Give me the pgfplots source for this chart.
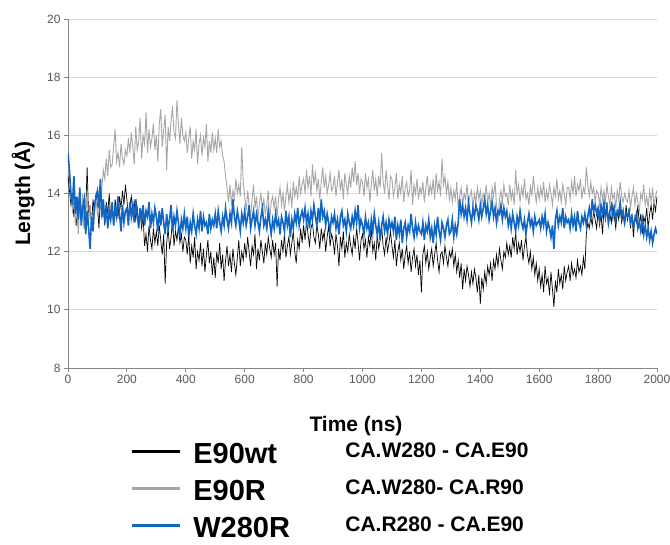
\documentclass[border=0pt]{standalone}
\usepackage{fontspec}
\setmainfont{Liberation Sans}
\usepackage{pgfplots}
\usepackage{pgfplotstable}
\pgfplotsset{compat=1.18}

\definecolor{wtblack}{RGB}{0,0,0}
\definecolor{rgray}{RGB}{166,166,166}
\definecolor{rblue}{RGB}{16,102,196}
\definecolor{axgray}{RGB}{134,134,134}
\definecolor{gridgray}{RGB}{217,217,217}
\definecolor{ticktext}{RGB}{89,89,89}

% t = time (ns), k = E90wt, g = E90R, b = W280R
\pgfplotstableread{
t k g b
0 14.6 15.3 15.4
5 14.1 14.5 14.8
10 13.6 13.9 14.0
15 13.9 13.4 13.6
20 13.2 13.8 14.6
25 13.7 12.9 13.3
30 12.9 13.5 13.9
35 13.5 12.6 13.1
40 14.2 13.7 14.2
45 13.1 13.2 12.9
50 13.8 14.0 13.5
55 12.8 12.8 13.8
60 13.4 13.3 12.6
65 14.9 13.9 13.4
70 13.2 13.0 12.8
75 13.6 13.6 12.1
80 12.9 13.1 13.2
85 13.8 12.7 12.7
90 13.3 13.5 13.6
95 14.0 13.8 13.9
100 13.6 13.3 14.1
105 12.8 14.0 13.5
110 13.9 13.6 14.5
115 13.2 14.2 13.2
120 13.5 14.8 13.8
125 12.9 14.5 13.0
130 13.7 15.2 13.6
135 13.3 14.6 12.8
140 14.0 15.5 13.4
145 13.1 14.9 13.1
150 13.6 15.0 13.7
155 12.9 15.6 12.9
160 13.8 16.2 13.5
165 13.4 15.1 13.2
170 13.2 15.4 13.9
175 13.9 14.9 13.3
180 13.5 15.7 12.7
185 14.1 15.2 13.6
190 13.6 15.0 13.0
195 14.3 15.5 13.4
200 13.8 15.3 13.5
205 13.2 15.9 12.9
210 13.6 15.4 13.7
215 13.9 16.1 13.2
220 13.3 15.6 13.6
225 13.7 15.0 13.0
230 13.1 16.3 13.8
235 13.5 15.5 13.3
240 13.0 15.8 12.8
245 13.4 16.6 13.5
250 12.8 15.2 13.1
255 13.2 16.0 13.6
260 12.2 15.7 12.9
265 12.6 16.8 13.4
270 12.0 15.4 13.2
275 12.9 16.2 13.7
280 12.4 15.6 12.8
285 12.1 15.9 13.3
290 12.8 16.4 13.0
295 12.3 15.5 13.5
300 12.7 16.0 13.2
305 12.2 15.1 12.7
310 12.9 16.4 13.4
315 12.4 16.9 12.9
320 11.9 15.6 13.5
325 12.6 16.2 13.0
330 10.9 16.7 12.6
335 12.3 14.8 13.3
340 12.8 16.3 12.8
345 12.1 15.8 13.1
350 12.5 16.5 13.6
355 13.1 17.0 12.7
360 12.2 16.1 13.2
365 12.7 15.9 12.9
370 12.4 17.2 13.4
375 12.9 16.4 13.0
380 12.3 15.7 12.5
385 12.6 16.6 13.1
390 12.0 16.0 12.8
395 12.5 15.8 13.3
400 12.4 16.1 12.8
405 11.9 15.4 13.2
410 12.6 15.9 12.5
415 11.6 16.3 13.0
420 12.2 15.2 12.7
425 11.8 15.8 13.3
430 12.5 15.5 12.9
435 11.4 16.2 12.6
440 12.0 15.0 13.1
445 11.7 15.7 12.8
450 12.3 16.0 13.4
455 11.5 15.3 12.7
460 12.1 15.9 13.2
465 11.3 15.6 12.9
470 11.9 16.4 13.0
475 12.4 15.1 12.6
480 11.6 15.8 13.3
485 12.0 15.4 12.8
490 11.2 16.1 13.1
495 11.8 15.5 12.9
500 11.1 15.9 13.3
505 12.0 15.4 12.8
510 11.6 16.2 13.4
515 12.3 15.6 13.0
520 11.4 15.8 12.7
525 11.9 15.3 13.2
530 11.0 15.1 12.9
535 11.7 14.6 13.5
540 12.2 14.2 13.1
545 11.5 13.7 12.8
550 11.9 14.3 13.3
555 11.3 13.6 13.0
560 12.1 14.1 13.8
565 11.6 13.8 13.2
570 11.2 14.5 12.9
575 11.8 14.0 13.4
580 12.4 14.3 13.1
585 11.5 13.9 12.7
590 12.0 15.6 13.3
595 11.7 14.4 13.0
600 12.3 13.9 13.4
605 11.8 13.4 12.9
610 12.5 14.1 13.2
615 12.0 13.6 13.6
620 11.5 13.2 12.8
625 12.2 13.8 13.1
630 11.9 14.3 13.4
635 12.6 13.5 12.9
640 11.4 13.9 13.3
645 12.1 13.1 13.0
650 11.7 13.7 12.7
655 12.4 14.0 13.2
660 12.0 13.4 13.5
665 11.6 13.8 12.9
670 12.3 13.3 13.1
675 11.9 13.6 12.8
680 12.5 14.1 13.4
685 12.1 13.0 13.0
690 11.8 13.7 12.6
695 12.4 13.9 13.1
700 11.9 13.5 12.8
705 12.3 13.9 13.3
710 10.8 13.2 12.9
715 12.1 13.8 13.1
720 11.7 14.2 12.6
725 12.4 13.6 13.2
730 12.0 14.0 13.0
735 12.6 13.4 12.7
740 11.8 13.9 13.4
745 12.2 14.3 12.9
750 12.5 13.7 13.2
755 11.9 14.1 12.5
760 12.3 13.5 13.1
765 12.7 14.4 12.8
770 12.0 13.9 13.3
775 11.6 14.2 13.0
780 12.4 13.8 13.5
785 12.1 14.6 12.9
790 12.8 14.0 13.2
795 12.3 14.3 13.4
800 12.9 14.5 13.1
805 12.4 14.0 13.5
810 13.1 14.8 13.0
815 12.6 14.2 13.3
820 12.2 14.6 12.8
825 12.8 13.9 13.4
830 13.0 15.0 13.1
835 12.5 14.3 13.6
840 12.3 14.7 13.2
845 12.9 14.1 12.9
850 12.6 14.5 13.5
855 12.1 13.8 13.0
860 12.8 14.4 13.8
865 12.4 14.9 13.2
870 12.7 14.2 13.4
875 12.0 14.6 12.9
880 12.5 14.0 13.3
885 12.9 14.3 13.0
890 12.2 14.7 12.7
895 12.6 14.1 13.2
900 12.4 14.2 13.0
905 11.9 14.6 13.3
910 12.6 13.9 12.8
915 12.2 14.4 13.1
920 11.5 14.8 12.6
925 12.5 14.1 13.2
930 12.1 14.5 13.4
935 12.7 13.8 12.9
940 11.8 14.7 13.1
945 12.3 14.3 12.7
950 12.0 14.0 13.3
955 12.6 14.6 13.0
960 12.2 14.2 12.8
965 11.9 14.9 13.2
970 12.5 14.4 12.9
975 12.1 15.1 13.4
980 12.8 14.3 13.0
985 12.3 14.7 13.6
990 11.7 14.0 12.8
995 12.4 14.5 13.1
1000 12.6 14.4 12.9
1005 12.1 13.9 12.6
1010 12.4 14.7 13.2
1015 11.8 14.2 12.8
1020 12.5 14.5 13.0
1025 12.2 13.7 12.5
1030 12.8 14.3 13.1
1035 12.0 14.8 12.7
1040 12.3 14.1 13.3
1045 11.7 14.5 12.9
1050 12.6 13.9 12.6
1055 12.1 14.6 13.0
1060 12.4 14.2 12.4
1065 12.9 15.4 12.9
1070 12.2 14.4 13.2
1075 11.9 14.0 12.7
1080 12.5 14.8 13.0
1085 12.0 14.3 12.6
1090 12.3 13.8 13.1
1095 12.7 14.6 12.8
1100 12.2 14.5 13.0
1105 11.8 13.9 12.7
1110 12.4 14.2 13.2
1115 11.5 14.7 12.4
1120 12.0 13.8 12.9
1125 12.3 14.3 12.6
1130 11.7 14.0 13.1
1135 12.1 14.6 12.3
1140 11.4 13.7 12.8
1145 11.9 14.2 13.0
1150 12.2 14.4 12.5
1155 11.6 13.9 12.9
1160 12.0 14.1 12.7
1165 11.3 14.8 13.3
1170 11.8 13.6 12.8
1175 12.1 14.3 12.5
1180 11.5 14.0 13.0
1185 11.9 14.5 12.6
1190 11.2 13.8 12.9
1195 11.7 14.2 12.7
1200 10.6 14.0 12.6
1205 11.9 14.4 13.0
1210 12.2 13.7 12.4
1215 11.6 14.2 12.9
1220 12.0 14.6 12.7
1225 11.4 13.9 13.1
1230 11.8 14.3 12.5
1235 12.1 14.0 12.8
1240 11.5 14.5 12.3
1245 11.9 13.8 12.9
1250 12.3 14.7 12.6
1255 11.7 14.1 13.2
1260 11.3 14.4 12.7
1265 11.9 13.9 12.4
1270 12.0 15.2 13.0
1275 11.6 14.3 12.8
1280 12.2 14.6 12.5
1285 11.8 14.0 12.9
1290 11.5 14.4 13.1
1295 12.0 13.8 12.6
1300 11.8 14.2 12.7
1305 12.1 13.7 13.1
1310 11.5 14.1 12.5
1315 11.9 13.8 12.9
1320 11.3 14.4 12.6
1325 11.7 13.5 13.0
1330 11.1 13.9 13.8
1335 11.6 14.2 13.3
1340 10.7 13.6 13.6
1345 11.4 14.0 13.2
1350 11.0 13.8 13.5
1355 11.5 14.3 13.1
1360 11.2 13.6 13.7
1365 10.8 13.9 13.3
1370 11.3 14.1 13.0
1375 10.9 13.5 13.5
1380 11.4 14.0 13.2
1385 11.1 13.7 13.6
1390 10.6 14.2 13.4
1395 11.2 13.8 13.1
1400 10.2 14.1 13.6
1405 11.1 13.6 13.2
1410 10.7 14.0 13.5
1415 11.3 13.8 13.8
1420 10.9 14.3 13.3
1425 11.5 13.7 13.6
1430 11.2 14.0 13.1
1435 11.6 13.5 13.4
1440 11.0 14.2 13.7
1445 11.7 13.9 13.2
1450 11.4 14.4 13.5
1455 11.9 13.6 13.0
1460 11.5 13.0 13.4
1465 12.1 13.8 13.3
1470 11.7 14.1 13.6
1475 11.4 13.7 13.1
1480 12.0 14.3 13.5
1485 11.8 13.9 13.2
1490 12.3 14.0 13.4
1495 11.9 13.6 12.9
1500 12.2 14.3 13.2
1505 11.8 13.8 12.8
1510 12.5 14.1 13.3
1515 12.1 13.6 13.0
1520 12.7 14.8 12.7
1525 11.9 14.0 13.2
1530 12.3 14.3 12.9
1535 12.0 13.7 13.4
1540 12.4 14.2 13.0
1545 11.7 13.9 12.8
1550 12.2 14.5 13.1
1555 12.5 13.8 12.6
1560 11.9 14.0 13.0
1565 11.6 13.6 13.3
1570 12.0 14.3 12.9
1575 11.4 13.9 13.1
1580 11.8 14.6 12.7
1585 11.2 14.1 13.2
1590 11.6 13.7 12.9
1595 11.0 14.2 13.0
1600 11.4 13.8 13.1
1605 10.8 14.2 12.8
1610 11.2 13.9 13.2
1615 10.6 14.4 12.9
1620 11.5 13.7 13.3
1625 10.9 14.1 12.7
1630 11.1 13.8 13.0
1635 10.5 14.3 12.8
1640 11.3 14.0 12.5
1645 10.7 13.6 12.9
1650 10.1 14.2 12.1
1655 11.0 13.9 13.1
1660 10.6 14.5 13.4
1665 11.4 13.8 12.9
1670 10.9 14.1 13.2
1675 11.2 13.7 13.0
1680 10.7 14.3 13.5
1685 11.5 14.0 12.8
1690 11.0 13.6 13.2
1695 11.3 14.2 13.0
1700 11.5 14.2 13.1
1705 11.0 13.8 12.8
1710 11.6 14.4 13.3
1715 11.2 14.0 12.9
1720 11.4 14.6 13.2
1725 11.1 13.9 12.7
1730 11.7 14.3 13.4
1735 11.3 14.1 13.0
1740 11.5 14.5 12.8
1745 11.2 13.8 13.2
1750 11.8 14.2 13.0
1755 11.4 14.0 13.3
1760 12.6 14.9 12.9
1765 13.0 14.3 13.2
1770 12.8 13.9 13.5
1775 13.2 14.4 13.1
1780 12.9 14.0 13.8
1785 13.4 14.2 13.4
1790 13.1 13.7 13.6
1795 12.8 14.1 13.3
1800 13.4 14.0 13.5
1805 12.9 13.6 13.1
1810 13.3 14.2 13.6
1815 12.6 13.8 13.3
1820 13.5 14.1 13.7
1825 13.1 13.7 13.2
1830 13.7 14.3 13.5
1835 12.9 13.9 13.0
1840 13.3 13.6 13.4
1845 13.0 14.2 13.6
1850 13.6 13.8 13.2
1855 13.2 14.0 13.5
1860 12.8 13.5 13.1
1865 13.4 14.1 13.4
1870 13.1 13.8 13.3
1875 13.5 14.4 13.7
1880 13.0 13.9 13.2
1885 13.3 13.7 13.4
1890 12.9 14.0 13.0
1895 13.6 13.8 13.3
1900 13.1 13.7 13.2
1905 13.5 14.1 13.4
1910 12.8 13.5 13.0
1915 13.3 13.9 13.2
1920 12.5 14.2 12.9
1925 13.2 13.6 13.1
1930 13.0 14.0 13.3
1935 13.6 13.7 12.8
1940 12.9 13.4 13.0
1945 13.3 14.0 12.7
1950 12.6 13.8 13.1
1955 13.2 14.3 12.6
1960 13.0 13.6 12.9
1965 13.5 13.9 12.5
1970 12.8 13.5 12.8
1975 13.3 14.1 12.4
1980 13.6 13.7 12.7
1985 13.1 14.2 12.3
1990 13.7 13.6 12.6
1995 13.4 13.9 12.8
2000 13.9 14.1 12.6
}\lengthdata

\begin{document}
\begin{tikzpicture}
\path[use as bounding box] (-68pt,-177pt) rectangle (602pt,368pt);
\begin{axis}[
    scale only axis,
    width=589pt,
    height=349pt,
    xmin=0, xmax=2000,
    ymin=8, ymax=20,
    xtick={0,200,...,2000},
    ytick={8,10,...,20},
    axis x line*=bottom,
    axis y line*=left,
    axis line style={axgray, line width=0.8pt},
    tick style={axgray, line width=0.8pt},
    tick align=outside,
    major tick length=4pt,
    ymajorgrids,
    grid style={gridgray, line width=0.8pt},
    tick label style={font=\fontsize{12}{12}\selectfont, text=ticktext},
    /pgf/number format/assume math mode=true,
    /pgf/number format/1000 sep={},
    xlabel={\bfseries Time (ns)},
    ylabel={\bfseries Length (Å)},
    xlabel style={font=\fontsize{21}{21}\selectfont, at={(axis description cs:0.489,0)}, anchor=base, yshift=-64pt},
    ylabel style={font=\fontsize{21}{21}\selectfont, at={(axis description cs:-0.0764,0.5)}, anchor=center, rotate=0},
    legend cell align=left,
    legend style={draw=none, fill=none, at={(axis description cs:0.105,-0.212)}, anchor=north west,
        inner sep=0pt, column sep=12pt, row sep=10pt,
        nodes={inner sep=0pt, text height=21pt, text depth=6pt}},
    legend image code/.code={\draw[#1, line width=3.3pt] (0pt,4pt) -- (48pt,4pt);},
]
\addplot[wtblack, line width=0.7pt] table[x=t, y=k] {\lengthdata};
\addlegendentry{\makebox[152pt][l]{\fontsize{29}{29}\selectfont\bfseries E90wt}\raisebox{6pt}{\fontsize{21}{21}\selectfont\bfseries CA.W280 - CA.E90}}
\addplot[rgray, line width=0.9pt] table[x=t, y=g] {\lengthdata};
\addlegendentry{\makebox[152pt][l]{\fontsize{29}{29}\selectfont\bfseries E90R}\raisebox{6pt}{\fontsize{21}{21}\selectfont\bfseries CA.W280- CA.R90}}
\addplot[rblue, line width=1.6pt] table[x=t, y=b] {\lengthdata};
\addlegendentry{\makebox[152pt][l]{\fontsize{29}{29}\selectfont\bfseries W280R}\raisebox{6pt}{\fontsize{21}{21}\selectfont\bfseries CA.R280 - CA.E90}}
\end{axis}
\end{tikzpicture}
\end{document}
